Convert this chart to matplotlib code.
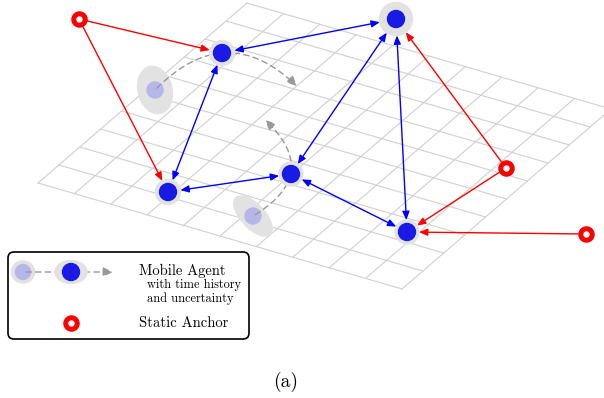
import matplotlib.pyplot as plt
from matplotlib.patches import Circle, Ellipse, FancyArrowPatch, FancyBboxPatch

# everything is laid out in pixel coordinates of the 604x398 picture (y down)
W, H = 604, 398

# grid on the ground plane: left corner, step along the two edges, cell count
grid_origin = (38, 183)
grid_u = (36.4, 10.6)
grid_v = (20.9, -18.0)
grid_n = 10

anchors = {"A1": (79, 19), "A2": (506, 168), "A3": (586, 234)}
agents = {"B1": (222, 53), "B2": (396, 19), "B3": (168, 192), "B4": (291, 174), "B5": (407, 232)}
halo_r = {"B1": 12.5, "B2": 16.5, "B3": 12.5, "B4": 12, "B5": 12}

# past positions (ghosts) with uncertainty ellipse: width, height, angle
ghosts = [(155, 90), (253, 216)]
ghost_ell = [(48, 34, 76), (50, 24, 47)]
# dashed time-history arcs: start ghost, end point, curvature
tracks = [(0, (299, 88), -0.5), (1, (263, 118), 0.67)]

red_links = [("A1", "B1"), ("A1", "B3"), ("A2", "B2"), ("A2", "B5"), ("A3", "B5")]
blue_links = [("B1", "B2"), ("B1", "B3"), ("B3", "B4"), ("B4", "B2"), ("B4", "B5"), ("B2", "B5")]

BLUE = "#1a1ae6"
GHOST = "#b6b6e8"
HALO = "#e2e2e2"
GRAY = "#999999"
PX = 0.72  # pixel -> points
GRAY_HEAD = "-|>,head_length=6,head_width=2.8"

fig = plt.figure(figsize=(W / 100, H / 100), dpi=100)
ax = fig.add_axes([0, 0, 1, 1])
ax.set_xlim(0, W)
ax.set_ylim(H, 0)
ax.axis("off")

# ground grid
ox, oy = grid_origin
for i in range(grid_n + 1):
    x0, y0 = ox + i * grid_u[0], oy + i * grid_u[1]
    ax.plot([x0, x0 + grid_n * grid_v[0]], [y0, y0 + grid_n * grid_v[1]], color="#d0d0d0", lw=0.8, zorder=1)
    x0, y0 = ox + i * grid_v[0], oy + i * grid_v[1]
    ax.plot([x0, x0 + grid_n * grid_u[0]], [y0, y0 + grid_n * grid_u[1]], color="#d0d0d0", lw=0.8, zorder=1)

# ghosts
for (gx, gy), (w, h, a) in zip(ghosts, ghost_ell):
    ax.add_patch(Ellipse((gx, gy), w, h, angle=a, color=HALO, zorder=2))
    ax.add_patch(Circle((gx, gy), 8, color=GHOST, zorder=3))

# time-history tracks
for gi, end, rad in tracks:
    ax.add_patch(FancyArrowPatch(ghosts[gi], end, connectionstyle=f"arc3,rad={rad}",
                                 arrowstyle=GRAY_HEAD, color=GRAY, lw=1,
                                 linestyle=(0, (4, 3)), zorder=4))

# agents
for k, (x, y) in agents.items():
    ax.add_patch(Circle((x, y), halo_r[k], color=HALO, zorder=5))
    ax.add_patch(Circle((x, y), 8.5, color=BLUE, zorder=6))

# anchors
for x, y in anchors.values():
    ax.plot(x, y, "o", ms=11.5 * PX, mfc="white", mec="#ff0000", mew=5 * PX, zorder=8)

# measurement links
for a, b in red_links:
    ax.add_patch(FancyArrowPatch(anchors[a], agents[b], arrowstyle="-|>,head_length=5,head_width=2.1",
                                 color="#ff0000", lw=1, shrinkA=8 * PX, shrinkB=halo_r[b] * PX, zorder=7))
for a, b in blue_links:
    ax.add_patch(FancyArrowPatch(agents[a], agents[b], arrowstyle="<|-|>,head_length=5,head_width=2.1",
                                 color="#0000ff", lw=1, shrinkA=halo_r[a] * PX, shrinkB=halo_r[b] * PX, zorder=7))

# legend
ax.add_patch(FancyBboxPatch((8, 252), 241, 87, boxstyle="round,pad=0,rounding_size=6",
                            fc="white", ec="black", lw=1.2, zorder=9))
ax.add_patch(Ellipse((23, 272), 23, 22, color=HALO, zorder=10))
ax.add_patch(Circle((23, 272), 7.5, color=GHOST, zorder=11))
ax.add_patch(FancyArrowPatch((23, 272), (116, 272), arrowstyle=GRAY_HEAD,
                             color=GRAY, lw=1, linestyle=(0, (4, 3)), zorder=12))
ax.add_patch(Ellipse((71, 272), 32, 23, color=HALO, zorder=13))
ax.add_patch(Circle((71, 272), 8.5, color=BLUE, zorder=14))
ax.plot(71, 323, "o", ms=11.5 * PX, mfc="white", mec="#ff0000", mew=5 * PX, zorder=14)

txt = dict(family="cmr10", va="center", ha="left", zorder=15)
ax.text(139, 271, "Mobile Agent", fontsize=10.5, **txt)
ax.text(147, 285, "with time history", fontsize=8.9, **txt)
ax.text(147, 299, "and uncertainty", fontsize=8.9, **txt)
ax.text(139, 323, "Static Anchor", fontsize=10.5, **txt)

ax.text(285.5, 382, "(a)", family="cmr10", fontsize=14, ha="center", va="center")

fig.savefig("out.png", dpi=100)
